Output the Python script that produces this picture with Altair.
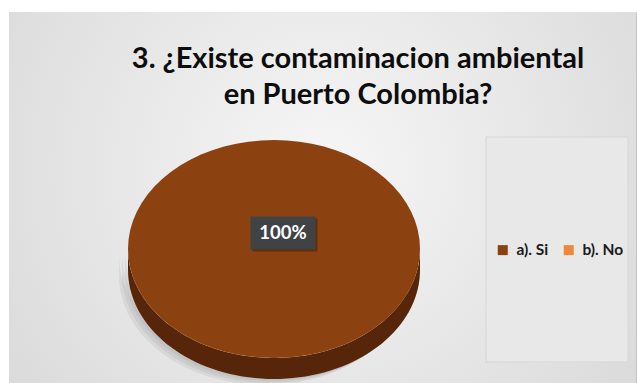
import altair as alt
import pandas as pd

# ---- data ----
categories = ["a). Si", "b). No"]
values = [100, 0]
colors = ["#8C4210", "#F0883A"]
side_colors = ["#57260A", "#A85A20"]
title_lines = ["3. ¿Existe contaminacion ambiental", "en Puerto Colombia?"]

df = pd.DataFrame({"category": categories, "value": values})
one = pd.DataFrame({"k": [0]})

# ---- layout (pixels inside the plot area) ----
W, H = 627, 371
CX, CY, RX, RY, D = 265, 237, 146, 109, 21
LDX, LDY = 9, -16
N = 72
FONT = "Lato"
RECT = "M-1,-0.5077L1,-0.5077L1,0.5077L-1,0.5077Z"

xs = alt.X("px:Q", scale=alt.Scale(domain=[0, W], nice=False, zero=False), axis=None)
ys = alt.Y("py:Q", scale=alt.Scale(domain=[0, H], nice=False, zero=False, reverse=True), axis=None)

base = (
    alt.Chart(df)
    .transform_joinaggregate(total="sum(value)")
    .transform_window(cum_end="sum(value)", sort=[alt.SortField("category")], frame=[None, 0])
    .transform_calculate(cum_start="datum.cum_end - datum.value")
    .transform_calculate(a0="-PI/2 + 2*PI*datum.cum_start/datum.total")
    .transform_calculate(a1="-PI/2 + 2*PI*datum.cum_end/datum.total")
    .transform_filter("datum.value > 0")
)

# background gradient
bg = alt.Chart(one).mark_rect(
    fill={
        "gradient": "radial",
        "stops": [{"offset": 0, "color": "#f6f6f6"}, {"offset": 1, "color": "#d2d2d2"}],
        "x1": 0.5, "y1": 0.45, "r1": 0, "x2": 0.5, "y2": 0.45, "r2": 0.8,
    }
).encode(x=alt.value(0), x2=alt.value(W), y=alt.value(0), y2=alt.value(H))

# legend panel
panel = alt.Chart(one).mark_rect(fill="#e8e8e8", stroke="#d6d6d6", strokeWidth=1).encode(
    x=alt.value(477), x2=alt.value(619), y=alt.value(125), y2=alt.value(350)
)

# side (front rim) of each slice
side_base = (
    base.transform_calculate(lo="max(datum.a0, 0)")
    .transform_calculate(hi="min(datum.a1, PI)")
    .transform_filter("datum.hi > datum.lo")
    .transform_calculate(k=f"sequence(0, {2 * N + 2})")
    .transform_flatten(["k"])
    .transform_calculate(
        ang=f"datum.k <= {N} ? datum.lo + (datum.hi - datum.lo) * datum.k / {N} : datum.hi - (datum.hi - datum.lo) * (datum.k - {N + 1}) / {N}"
    )
    .transform_calculate(px=f"{CX} + {RX} * cos(datum.ang)")
    .transform_calculate(py=f"{CY} + {RY} * sin(datum.ang) + (datum.k <= {N} ? 0 : {D})")
)

shadow = (
    side_base.transform_calculate(s="[1, 2, 3]")
    .transform_flatten(["s"])
    .transform_calculate(px="datum.px - 3 * datum.s", py="datum.py + 2 * datum.s")
    .mark_line(filled=True, color="#7a7a7a", opacity=0.12)
    .encode(x=xs, y=ys, order=alt.Order("k:Q"), detail="s:N")
)

side = side_base.mark_line(filled=True).encode(
    x=xs, y=ys, order=alt.Order("k:Q"),
    color=alt.Color("category:N", scale=alt.Scale(domain=categories, range=side_colors), legend=None),
)

# top face of each slice
top = (
    base.transform_calculate(k=f"sequence(-1, {N + 1})")
    .transform_flatten(["k"])
    .transform_calculate(ang=f"datum.a0 + (datum.a1 - datum.a0) * max(datum.k, 0) / {N}")
    .transform_calculate(px=f"datum.k < 0 ? {CX} : {CX} + {RX} * cos(datum.ang)")
    .transform_calculate(py=f"datum.k < 0 ? {CY} : {CY} + {RY} * sin(datum.ang)")
    .mark_line(filled=True)
    .encode(
        x=xs, y=ys, order=alt.Order("k:Q"),
        color=alt.Color(
            "category:N",
            scale=alt.Scale(domain=categories, range=colors),
            legend=alt.Legend(
                title=None, orient="none", legendX=486, legendY=230,
                direction="horizontal", columns=2, symbolType="square", symbolSize=100,
                symbolStrokeWidth=0, labelFont=FONT, labelFontWeight="bold",
                labelFontSize=15.5, labelColor="#1a1a1a", columnPadding=12,
                labelOffset=6, padding=0,
            ),
        ),
    )
)

# data labels
lab = (
    base.transform_calculate(mid="(datum.a0 + datum.a1) / 2", pct="datum.value / datum.total")
    .transform_calculate(px=f"datum.pct >= 1 ? {CX + LDX} : {CX} + 0.62 * {RX} * cos(datum.mid)")
    .transform_calculate(py=f"datum.pct >= 1 ? {CY + LDY} : {CY} + 0.62 * {RY} * sin(datum.mid)")
)
box_shadow = lab.mark_point(shape=RECT, size=4225, filled=True, color="#000000", opacity=0.3,
                            xOffset=2, yOffset=2).encode(x=xs, y=ys)
box = lab.mark_point(shape=RECT, size=4225, filled=True, color="#404346", opacity=1).encode(x=xs, y=ys)
lab_text = lab.mark_text(font=FONT, fontWeight="bold", fontSize=18.5, color="white",
                         align="center", baseline="middle").encode(
    x=xs, y=ys, text=alt.Text("pct:Q", format=".0%"))

# title
t1 = alt.Chart(one).mark_text(text=title_lines[0], font=FONT, fontWeight="bold", fontSize=29,
                              color="#0d0d0d", align="center", baseline="alphabetic").encode(
    x=alt.value(349), y=alt.value(56))
t2 = alt.Chart(one).mark_text(text=title_lines[1], font=FONT, fontWeight="bold", fontSize=29,
                              color="#0d0d0d", align="center", baseline="alphabetic").encode(
    x=alt.value(349), y=alt.value(92))

chart = (
    alt.layer(bg, panel, shadow, side, top, box_shadow, box, lab_text, t1, t2)
    .resolve_scale(color="independent")
    .properties(
        width=W, height=H,
        padding={"left": 9, "top": 12, "right": 1, "bottom": 0},
        autosize=alt.AutoSizeParams(type="none"),
        background="white",
    )
    .configure_view(stroke="#c4c4c4", strokeWidth=1)
)

chart.save("out.html", embed_options={"renderer": "svg", "actions": False})
